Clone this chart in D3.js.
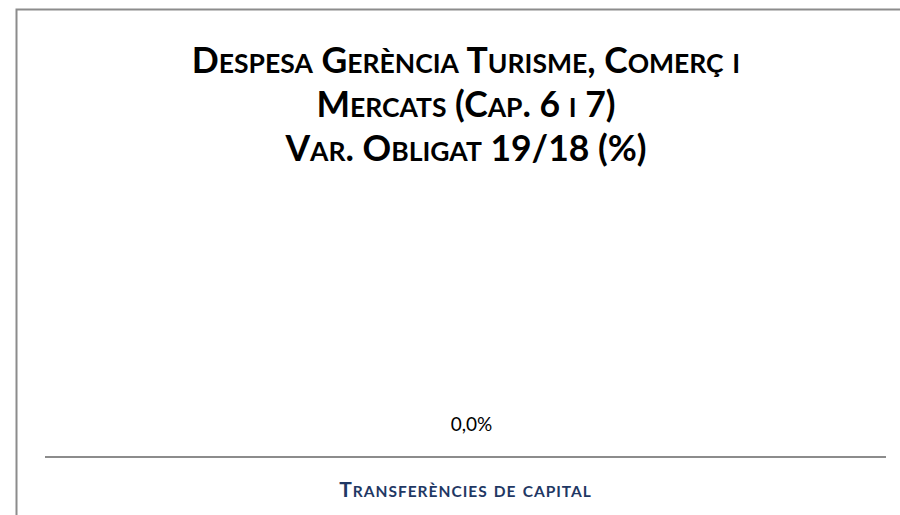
<!DOCTYPE html>
<html>
<head>
<meta charset="utf-8">
<script src="https://cdn.jsdelivr.net/npm/d3@7"></script>
<style>
  html, body { margin: 0; padding: 0; background: #fff; }
  svg { display: block; }
</style>
</head>
<body>
<div id="chart"></div>
<script>
// Data
const titleLines = ["Despesa Gerència Turisme, Comerç i", "Mercats (Cap. 6 i 7)", "Var. Obligat 19/18 (%)"];
const categories = ["Transferències de capital"];
const values = [0.0];

const W = 900, H = 515;
const FONT = "Lato, 'Open Sans', sans-serif";
const svg = d3.select("#chart").append("svg").attr("width", W).attr("height", H);

// Writes text in small capitals: capitals and digits at full size, lowercase
// letters as reduced capitals.
function smallCaps(sel, str, big, small) {
  const runs = [];
  for (const ch of str) {
    const isLower = ch !== ch.toUpperCase();
    const size = isLower ? small : big;
    const c = isLower ? ch.toUpperCase() : ch;
    if (runs.length && runs[runs.length - 1].size === size) runs[runs.length - 1].t += c;
    else runs.push({ size, t: c });
  }
  sel.text(null);
  sel.selectAll("tspan").data(runs).join("tspan")
    .attr("font-size", d => d.size)
    .text(d => d.t);
}

// Chart frame (extends past the viewport on right and bottom)
svg.append("rect")
  .attr("x", 16.5).attr("y", 9.5)
  .attr("width", 1000).attr("height", 1000)
  .attr("fill", "#fff")
  .attr("stroke", "#8c8c8c")
  .attr("stroke-width", 2);

// Title
const title = svg.append("g").attr("font-family", FONT)
  .attr("font-weight", "bold").attr("fill", "#000");
titleLines.forEach((t, i) => {
  const tx = title.append("text")
    .attr("x", 466).attr("y", 73 + i * 44)
    .attr("text-anchor", "middle");
  smallCaps(tx, t, 35.5, 26.5);
});

// Plot area
const plot = { left: 45, right: 886, top: 200, bottom: 457 };
const x = d3.scaleBand().domain(categories).range([plot.left, plot.right]).padding(0.4);
const y = d3.scaleLinear().domain([0, 1]).range([plot.bottom, plot.top]);

// Bars (zero-height for a 0% change)
svg.selectAll("rect.bar").data(values).join("rect")
  .attr("class", "bar")
  .attr("x", (d, i) => x(categories[i]))
  .attr("width", x.bandwidth())
  .attr("y", d => y(Math.max(0, d)))
  .attr("height", d => Math.abs(y(d) - y(0)))
  .attr("fill", "#1F3864");

// Value labels
const fmt = d => d3.format(".1f")(d).replace(".", ",") + "%";
svg.selectAll("text.val").data(values).join("text")
  .attr("class", "val")
  .attr("x", (d, i) => x(categories[i]) + x.bandwidth() / 2 + 6)
  .attr("y", d => y(Math.max(0, d)) - 26)
  .attr("text-anchor", "middle")
  .attr("font-family", FONT)
  .attr("font-size", 19)
  .attr("fill", "#000")
  .text(fmt);

// Category axis
const xAxis = d3.axisBottom(x).tickSize(0).tickPadding(0);
const ax = svg.append("g").attr("transform", `translate(0,${y(0)})`).call(xAxis);
ax.select(".domain").attr("stroke", "#8c8c8c").attr("stroke-width", 2)
  .attr("d", `M${plot.left},0H${plot.right}`);
ax.selectAll(".tick text")
  .attr("font-family", FONT)
  .attr("font-weight", "bold")
  .attr("fill", "#1F3864")
  .attr("letter-spacing", 1)
  .attr("dy", null)
  .attr("y", 40)
  .each(function (d) { smallCaps(d3.select(this), d, 21, 15.5); });
</script>
</body>
</html>
